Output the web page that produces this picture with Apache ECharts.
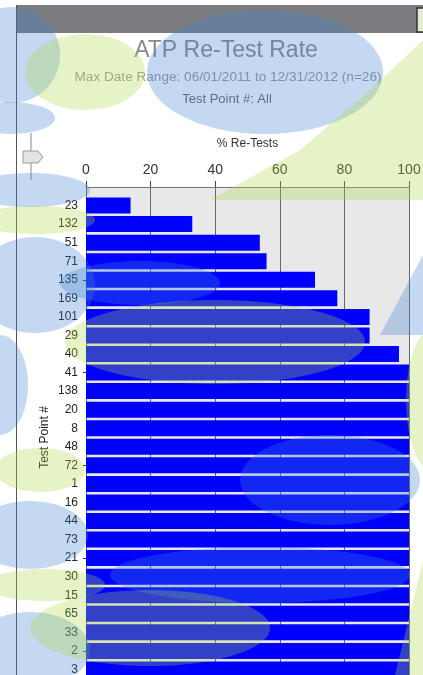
<!DOCTYPE html>
<html>
<head>
<meta charset="utf-8">
<title>ATP Re-Test Rate</title>
<script src="https://cdn.jsdelivr.net/npm/echarts@6/dist/echarts.min.js"></script>
<style>
  html, body { margin: 0; padding: 0; background: #fff; }
  #chart { width: 423px; height: 675px; }
</style>
</head>
<body>
<div id="chart"></div>
<script>
// data
var testPoints = ['23', '132', '51', '71', '135', '169', '101', '29', '40', '41', '138', '20', '8',
  '48', '72', '1', '16', '44', '73', '21', '30', '15', '65', '33', '2', '3']
var retestPct = [13.8, 32.9, 53.8, 55.9, 70.9, 77.8, 87.8, 87.8, 96.9, 100, 100, 100, 100,
  100, 100, 100, 100, 100, 100, 100, 100, 100, 100, 100, 100, 100]
var xTickStep = 20

var titleText = 'ATP Re-Test Rate'
var subText = 'Max Date Range: 06/01/2011 to 12/31/2012 (n=26)'
var filterText = 'Test Point #: All'

// category axis gets one empty slot at each end so the rows sit like the original
var yCats = [''].concat(testPoints, [''])
var barData = [null].concat(retestPct, [null])

var fontFamily = 'Liberation Sans, Arial, sans-serif'
// watermark colours, laid over everything
var wmBlue = 'rgba(59,130,210,0.3)'
var wmGreen = 'rgba(170,215,70,0.3)'

function blob(color, cx, cy, rx, ry) {
  return { type: 'ellipse', z: 100, silent: true, shape: { cx: cx, cy: cy, rx: rx, ry: ry }, style: { fill: color } }
}
function patch(color, points) {
  return { type: 'polygon', z: 100, silent: true, shape: { points: points }, style: { fill: color } }
}

var myChart = echarts.init(document.getElementById('chart'))

var option = {
  animation: false,
  backgroundColor: '#fff',
  textStyle: { fontFamily: fontFamily },
  grid: {
    left: 86,
    top: 187,
    width: 323,
    height: 501,
    show: true,
    backgroundColor: '#e8e8e8',
    borderWidth: 0,
    outerBoundsMode: 'none'
  },
  xAxis: {
    type: 'value',
    position: 'top',
    min: 0,
    max: 100,
    interval: xTickStep,
    name: '% Re-Tests',
    nameLocation: 'middle',
    nameGap: 37,
    nameTextStyle: { fontSize: 12, color: '#333' },
    axisLine: { show: true, lineStyle: { color: '#777' } },
    axisTick: { show: true, length: 6, lineStyle: { color: '#444' } },
    axisLabel: { fontSize: 14, color: '#333', margin: 10 },
    splitLine: { show: true, lineStyle: { color: '#666', width: 1 } }
  },
  yAxis: {
    type: 'category',
    inverse: true,
    boundaryGap: false,
    data: yCats,
    name: 'Test Point #',
    nameLocation: 'middle',
    nameGap: 35,
    nameMoveOverlap: false,
    nameRotate: 90,
    nameTextStyle: { fontSize: 12, color: '#222' },
    axisLine: { show: true, lineStyle: { color: '#666' } },
    axisTick: {
      show: true,
      length: 3,
      interval: function (index) { return index > 0 && index % 5 === 0 },
      lineStyle: { color: '#333' }
    },
    axisLabel: { interval: 0, fontSize: 12, color: '#222', margin: 8 },
    splitLine: { show: false }
  },
  series: [{
    type: 'bar',
    data: barData,
    barWidth: 16,
    itemStyle: { color: '#0000ff' },
    z: 3
  }],
  graphic: [
    // panel frame
    { type: 'line', z: 50, silent: true, shape: { x1: 16.5, y1: 5, x2: 16.5, y2: 675 }, style: { stroke: '#555', lineWidth: 1 } },
    { type: 'rect', z: 50, silent: true, shape: { x: 17, y: 5, width: 406, height: 28 }, style: { fill: '#7b7c80' } },
    { type: 'rect', z: 51, silent: true, shape: { x: 417, y: 8, width: 10, height: 24 }, style: { fill: '#e4ecd0', stroke: '#333', lineWidth: 1.5 } },
    // slider
    { type: 'line', z: 50, silent: true, shape: { x1: 31, y1: 133, x2: 31, y2: 180 }, style: { stroke: '#c4c4c4', lineWidth: 2 } },
    { type: 'polygon', z: 51, silent: true, shape: { points: [[23, 151], [38, 151], [43, 157], [38, 163], [23, 163]] },
      style: { fill: '#e4e4e4', stroke: '#9a9a9a', lineWidth: 1 } },
    // titles
    { type: 'text', z: 50, silent: true, x: 226, y: 51,
      style: { text: titleText, fill: '#8a8a8a', font: '23px ' + fontFamily, textAlign: 'center', textVerticalAlign: 'middle' } },
    { type: 'text', z: 50, silent: true, x: 228, y: 77,
      style: { text: subText, fill: '#999', font: '13.6px ' + fontFamily, textAlign: 'center', textVerticalAlign: 'middle' } },
    { type: 'text', z: 50, silent: true, x: 227, y: 99,
      style: { text: filterText, fill: '#6a6a6a', font: '13px ' + fontFamily, textAlign: 'center', textVerticalAlign: 'middle' } },

    // watermark swirls (rough)
    blob(wmBlue, 265, 72, 118, 62),
    blob(wmBlue, 12, 55, 48, 48),
    blob(wmGreen, 85, 72, 60, 38),
    patch(wmGreen, [[210, 200], [300, 150], [370, 90], [423, 40], [423, 200]]),
    blob(wmBlue, 10, 118, 45, 16),
    blob(wmBlue, 30, 190, 60, 17),
    blob(wmGreen, 35, 220, 60, 14),
    blob(wmBlue, 35, 285, 60, 48),
    blob(wmBlue, 0, 385, 28, 50),
    blob(wmGreen, 40, 470, 45, 22),
    blob(wmBlue, 30, 535, 58, 34),
    blob(wmGreen, 45, 585, 60, 16),
    blob(wmBlue, 30, 650, 60, 38),
    // over the bars
    blob(wmBlue, 140, 283, 80, 22),
    blob(wmGreen, 215, 342, 150, 42),
    blob(wmBlue, 330, 480, 90, 45),
    blob(wmBlue, 260, 575, 150, 28),
    blob(wmGreen, 150, 628, 120, 38),
    // right edge
    patch(wmBlue, [[380, 335], [423, 255], [423, 335]]),
    blob(wmGreen, 432, 400, 26, 70),
    patch(wmGreen, [[395, 675], [423, 560], [423, 675]])
  ]
}

myChart.setOption(option, true)
</script>
</body>
</html>
